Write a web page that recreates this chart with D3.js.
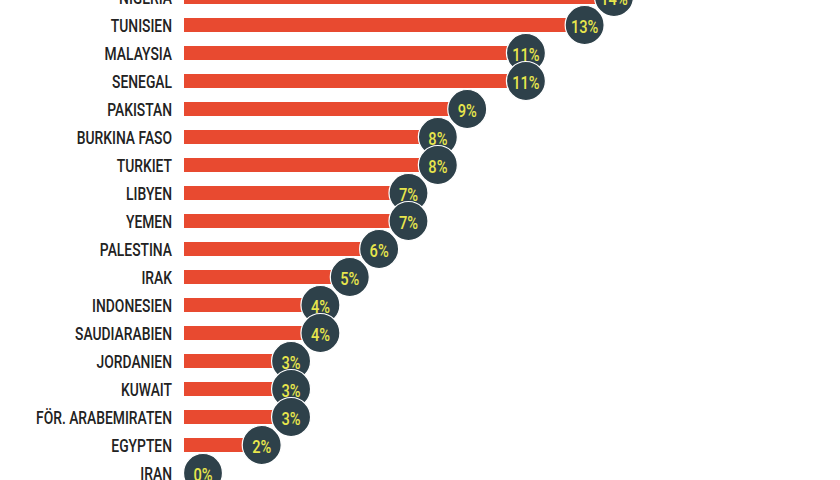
<!DOCTYPE html>
<html>
<head>
<meta charset="utf-8">
<script src="https://cdn.jsdelivr.net/npm/d3@7"></script>
<style>
  html, body { margin: 0; padding: 0; background: #ffffff; }
  svg { display: block; }
</style>
</head>
<body>
<svg id="chart" width="840" height="480"></svg>
<script>
const countries = [
  "NIGERIA", "TUNISIEN", "MALAYSIA", "SENEGAL", "PAKISTAN", "BURKINA FASO",
  "TURKIET", "LIBYEN", "YEMEN", "PALESTINA", "IRAK", "INDONESIEN",
  "SAUDIARABIEN", "JORDANIEN", "KUWAIT", "FÖR. ARABEMIRATEN", "EGYPTEN", "IRAN"
];
const shares = [14, 13, 11, 11, 9, 8, 8, 7, 7, 6, 5, 4, 4, 3, 3, 3, 2, 0];

const rows = countries.map((name, i) => ({ name, value: shares[i] }));

const FONT = "Roboto, 'DejaVu Sans', sans-serif";
const SQUEEZE = 0.77; // condensed look, no narrow face installed
const BAR_COLOR = "#e84a30";
const DOT_COLOR = "#2e414a";
const DOT_TEXT = "#e8e64c";

const svg = d3.select("#chart");

const y = d3.scaleBand()
  .domain(countries)
  .range([-17, -17 + countries.length * 28])
  .padding(0);

const x = d3.scaleLinear()
  .domain([0, 14])
  .range([203, 614]);

const barLeft = 184;
const barH = 14;
const mid = d => y(d.name) + y.bandwidth() / 2;

// bars
svg.append("g")
  .selectAll("rect")
  .data(rows)
  .join("rect")
  .attr("x", barLeft)
  .attr("y", d => mid(d) - barH / 2)
  .attr("width", d => Math.max(0, x(d.value) - barLeft))
  .attr("height", barH)
  .attr("fill", BAR_COLOR);

// country labels
svg.append("g")
  .selectAll("text")
  .data(rows)
  .join("text")
  .attr("transform", d => `translate(172,${mid(d) + 1}) scale(${SQUEEZE},1)`)
  .attr("text-anchor", "end")
  .attr("dominant-baseline", "central")
  .attr("font-family", FONT)
  .attr("font-weight", 500)
  .attr("font-size", 18)
  .attr("fill", "#222222")
  .text(d => d.name);

// value dots
const dots = svg.append("g")
  .selectAll("g")
  .data(rows)
  .join("g")
  .attr("transform", d => `translate(${x(d.value)},${mid(d)})`);

dots.append("circle")
  .attr("r", 19.5)
  .attr("fill", DOT_COLOR)
  .attr("stroke", "#ffffff")
  .attr("stroke-width", 1.2);

dots.append("text")
  .attr("transform", `translate(0,1) scale(${SQUEEZE},1)`)
  .attr("text-anchor", "middle")
  .attr("dominant-baseline", "central")
  .attr("font-family", FONT)
  .attr("font-weight", 500)
  .attr("font-size", 19)
  .attr("fill", DOT_TEXT)
  .text(d => d.value + "%");
</script>
</body>
</html>
